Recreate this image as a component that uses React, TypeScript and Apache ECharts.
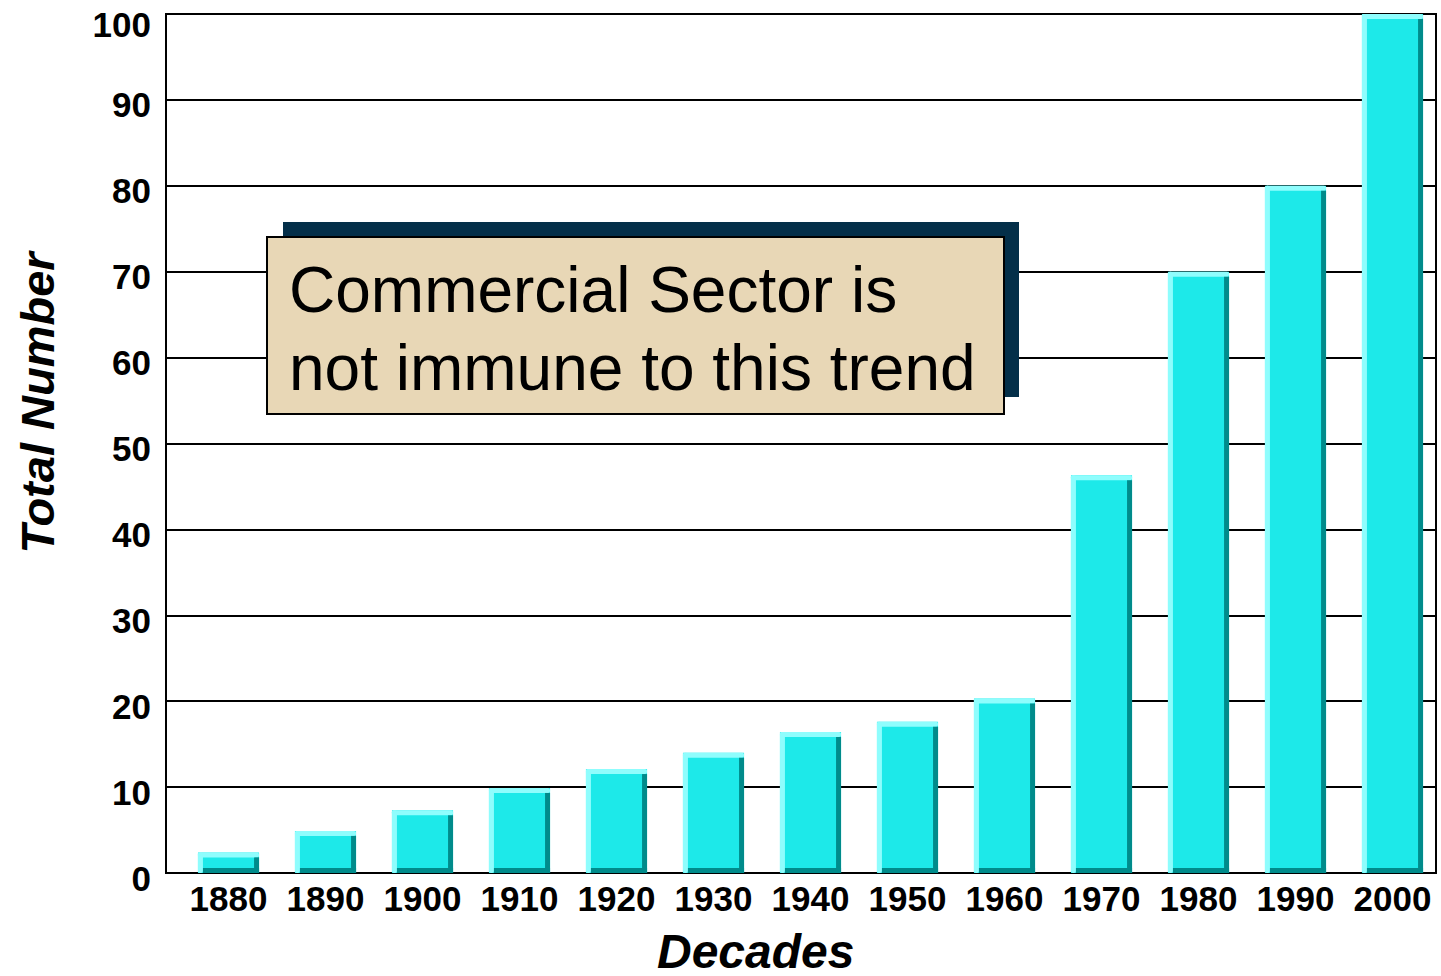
import React, { useEffect, useRef } from "react";
import * as echarts from "echarts";

// Decades on the horizontal axis
const decades = ["1880", "1890", "1900", "1910", "1920", "1930", "1940", "1950", "1960", "1970", "1980", "1990", "2000"];
// Total number per decade
const totals = [2.4, 4.9, 7.3, 9.9, 12.1, 14, 16.4, 17.6, 20.3, 46.3, 70, 80, 100];
// Value-axis range
const yMin = 0;
const yMax = 100;
const yStep = 10;

const calloutLines = ["Commercial Sector is", "not immune to this trend"];

const FONT = '"Liberation Sans", Arial, Helvetica, sans-serif';
const FACE = "#1de9e9";
const LIGHT = "#8ffdfd";
const DARK = "#008b8b";

export default function App() {
  const ref = useRef<HTMLDivElement>(null);

  useEffect(() => {
    if (!ref.current) return;
    const chart = echarts.init(ref.current, null, { renderer: "svg" });

    // Bevelled bar: light top/left edges, dark right/bottom edges
    const renderBar = (params: any, api: any) => {
      const idx = api.value(0);
      const v = api.value(1);
      const top = api.coord([idx, v]);
      const base = api.coord([idx, 0]);
      const w = api.size([1, 0])[0] * 0.63;
      const b = 5;
      const l = top[0] - w / 2;
      const t = top[1];
      const h = base[1] - t;
      return {
        type: "group",
        children: [
          { type: "rect", shape: { x: l, y: t, width: w, height: h }, style: { fill: FACE } },
          { type: "rect", shape: { x: l, y: t, width: w, height: b, r: 2 }, style: { fill: LIGHT } },
          { type: "rect", shape: { x: l, y: t, width: b, height: h, r: 2 }, style: { fill: LIGHT } },
          { type: "rect", shape: { x: l + w - b, y: t + b, width: b, height: h - b }, style: { fill: DARK } },
          { type: "rect", shape: { x: l + b, y: base[1] - b, width: w - b, height: b }, style: { fill: DARK } },
        ],
      };
    };

    chart.setOption({
      animation: false,
      backgroundColor: "#ffffff",
      grid: [
        {
          left: 166, top: 14, width: 1270, height: 859,
          show: true, borderColor: "#000", borderWidth: 2, backgroundColor: "transparent",
        },
        { left: 180, top: 14, width: 1264, height: 859 },
      ],
      xAxis: [
        { type: "value", gridIndex: 0, show: false, min: 0, max: 1 },
        {
          type: "category",
          gridIndex: 1,
          data: decades,
          axisLine: { show: false },
          axisTick: { show: false },
          axisLabel: {
            color: "#000", fontFamily: FONT, fontWeight: "bold", fontSize: 35, margin: 8,
            interval: 0,
          },
        },
      ],
      yAxis: [
        {
          type: "value",
          gridIndex: 0,
          min: yMin,
          max: yMax,
          interval: yStep,
          axisLine: { show: true, lineStyle: { color: "#000", width: 2 } },
          axisTick: { show: false },
          splitLine: { show: true, lineStyle: { color: "#000", width: 2 } },
          axisLabel: {
            color: "#000", fontFamily: FONT, fontWeight: "bold", fontSize: 35, margin: 15,
            formatter: (v: number) => (v === yMax ? `{top|${v}}` : `{n|${v}}`),
            rich: {
              n: { fontFamily: FONT, fontWeight: "bold", fontSize: 35, color: "#000", padding: [10, 0, 0, 0] },
              top: { fontFamily: FONT, fontWeight: "bold", fontSize: 35, color: "#000", padding: [20, 0, 0, 0] },
            },
          },
        },
        { type: "value", gridIndex: 1, min: yMin, max: yMax, show: false, splitLine: { show: false } },
      ],
      series: [
        {
          type: "custom",
          xAxisIndex: 1,
          yAxisIndex: 1,
          renderItem: renderBar,
          encode: { x: 0, y: 1 },
          data: totals.map((v, i) => [i, v]),
          z: 5,
        },
      ],
      graphic: [
        {
          type: "text",
          left: 657,
          top: 927,
          z: 50,
          style: {
            text: "Decades",
            font: `italic bold 48px ${FONT}`,
            fill: "#000",
          },
        },
        {
          type: "text",
          x: 37,
          y: 403,
          rotation: Math.PI / 2,
          z: 50,
          style: {
            text: "Total Number",
            font: `italic bold 47px ${FONT}`,
            fill: "#000",
            align: "center",
            verticalAlign: "middle",
          },
        },
        { type: "rect", z: 100, shape: { x: 283, y: 222, width: 736, height: 175 }, style: { fill: "#042f49" } },
        {
          type: "rect",
          z: 101,
          shape: { x: 267, y: 237, width: 737, height: 177 },
          style: { fill: "#e8d7b6", stroke: "#000", lineWidth: 2 },
        },
        {
          type: "text",
          z: 102,
          x: 289,
          y: 290,
          style: { text: calloutLines[0], font: `64px ${FONT}`, fill: "#000", verticalAlign: "middle" },
        },
        {
          type: "text",
          z: 102,
          x: 289,
          y: 368,
          style: { text: calloutLines[1], font: `64px ${FONT}`, fill: "#000", verticalAlign: "middle" },
        },
      ],
    });

    return () => chart.dispose();
  }, []);

  return <div ref={ref} style={{ position: "absolute", left: 0, top: 0, width: 1441, height: 976 }} />;
}
